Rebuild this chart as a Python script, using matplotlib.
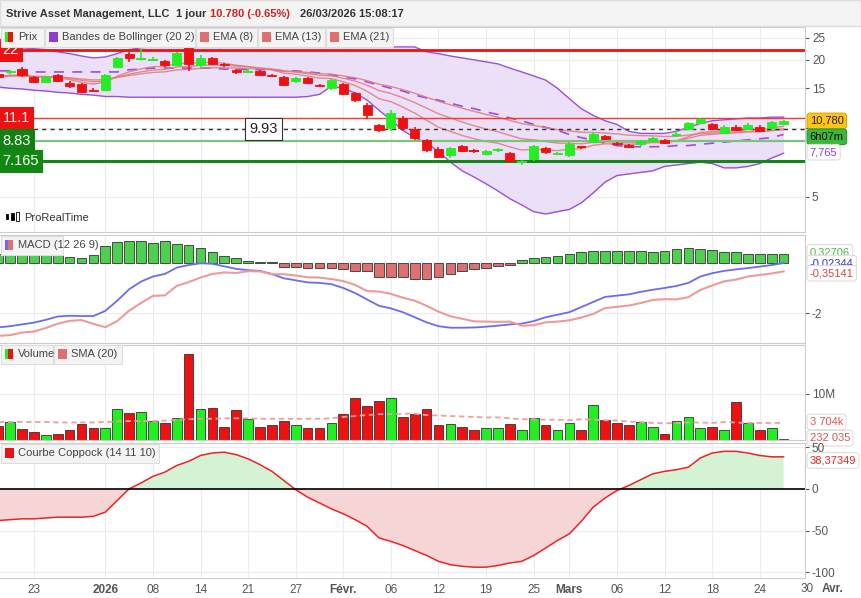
import numpy as np
import pandas as pd
import matplotlib
matplotlib.use('Agg')
import matplotlib.pyplot as plt
from matplotlib.patches import Rectangle
from matplotlib.ticker import FixedLocator, NullFormatter

# ---- data ----
opens = [17.3, 17.6, 18.3, 16.8, 16.0, 17.2, 15.9, 15.6, 14.7, 14.8, 18.6, 21.3, 20.1, 20.0, 19.8, 19.0, 22.7,
         19.0, 20.4, 19.2, 18.1, 17.75, 17.8, 17.2, 16.8, 16.1, 16.6, 15.5, 15.0, 15.7, 14.3, 12.7, 10.3, 10.0,
         11.1, 9.9, 8.9, 8.1, 7.6, 8.35, 7.95, 7.70, 8.0, 7.78, 7.06, 7.34, 8.18, 7.7, 7.63, 8.3, 8.71, 9.24,
         8.61, 8.43, 8.52, 8.80, 8.89, 9.3, 9.91, 10.57, 10.46, 9.53, 10.14, 9.91, 10.14, 10.02, 10.5]
closes = [16.9, 17.9, 17.1, 16.0, 16.8, 16.1, 15.3, 14.4, 14.6, 17.2, 20.4, 20.3, 20.2, 20.05, 18.9, 21.4, 19.2,
          20.4, 19.2, 18.9, 17.6, 17.8, 17.2, 17.05, 15.5, 16.6, 15.9, 15.35, 16.3, 14.2, 13.3, 11.5, 9.8, 11.7,
          10.0, 9.1, 8.0, 7.5, 8.2, 7.94, 7.92, 7.94, 8.03, 7.2, 7.1, 8.35, 7.86, 7.75, 8.52, 8.26, 9.43, 8.97,
          8.52, 8.26, 8.80, 9.06, 8.61, 9.34, 10.57, 10.98, 9.91, 10.14, 9.82, 10.35, 9.73, 10.67, 10.78]
highs = [17.5, 18.1, 18.6, 17.0, 17.0, 17.4, 16.1, 15.8, 15.0, 17.4, 20.6, 21.6, 22.3, 20.5, 20.0, 21.6, 23.0,
         21.0, 20.6, 19.4, 18.3, 18.2, 18.0, 17.3, 17.0, 16.8, 16.8, 15.7, 16.5, 15.9, 14.5, 12.9, 10.5, 12.1,
         11.3, 10.1, 9.0, 8.3, 8.3, 8.45, 8.1, 8.0, 8.2, 7.85, 7.25, 8.45, 8.3, 7.9, 8.7, 8.4, 9.6, 9.35,
         8.7, 8.5, 8.9, 9.2, 9.0, 9.8, 10.7, 11.1, 10.55, 10.3, 10.3, 10.6, 10.35, 10.75, 10.85]
lows = [16.7, 17.4, 16.9, 15.8, 15.8, 16.0, 15.1, 14.3, 14.4, 14.6, 18.4, 19.6, 19.9, 19.8, 18.6, 18.8, 17.9,
        18.7, 19.0, 18.7, 17.4, 17.5, 17.0, 16.8, 15.3, 15.9, 15.7, 15.2, 14.8, 14.0, 13.1, 11.0, 9.6, 9.7,
        9.8, 8.9, 7.9, 7.4, 7.4, 7.85, 7.8, 7.6, 7.9, 7.1, 6.9, 7.2, 7.7, 7.6, 7.5, 8.1, 8.6, 8.9,
        8.4, 8.2, 8.4, 8.7, 8.5, 9.2, 9.8, 10.5, 9.8, 9.4, 9.75, 9.8, 9.65, 9.95, 10.45]

bb_upper = [22.6, 22.6, 22.6, 22.4, 22.2, 21.7, 21.3, 20.8, 20.4, 20.6, 21.3, 22.2, 22.6] + [22.8] * 23 + \
           [21.7, 21.3, 20.8, 20.4, 20.0, 19.6, 19.2, 18.4, 17.7, 17.0, 16.3, 15.0, 13.5, 12.2, 11.4, 10.8,
            10.4, 9.7, 9.5, 9.5, 9.5, 9.7, 10.1, 10.5, 10.8, 10.9, 11.0, 11.1, 11.1, 11.2, 11.2]
bb_mid = [17.9, 17.9, 17.9, 17.7, 17.7, 17.7, 17.7, 17.7, 17.7, 17.7, 17.7, 18.1, 18.2, 18.4, 18.4, 18.4, 18.4,
          18.4, 18.4, 18.2, 18.2, 18.1, 18.1, 18.1, 17.9, 17.9, 17.7, 17.5, 17.2, 16.8, 16.5, 16.0, 15.5, 15.0,
          14.6, 14.0, 13.6, 13.3, 12.9, 12.5, 12.2, 11.8, 11.5, 11.1, 10.8, 10.4, 10.1, 9.8, 9.4, 9.1, 8.9, 8.6,
          8.4, 8.3, 8.3, 8.3, 8.3, 8.4, 8.4, 8.5, 8.6, 8.7, 8.8, 8.9, 9.0, 9.1, 9.4]
bb_lower = [15.2, 15.0, 14.9, 14.7, 14.6, 14.4, 14.3, 14.1, 14.0, 13.8, 13.8] + [13.7] * 15 + \
           [13.8, 14.1, 15.3, 15.0, 14.3, 13.3, 12.0, 10.9, 9.8, 9.1, 8.6, 7.9, 7.1, 6.5, 6.1, 5.7, 5.3, 4.9,
            4.6, 4.3, 4.2, 4.3, 4.4, 4.7, 5.2, 5.8, 6.2, 6.3, 6.4, 6.5, 6.8, 6.9, 7.0, 7.1, 7.0, 6.7, 6.7,
            6.8, 7.0, 7.4, 7.77]

macd = [-2.55, -2.5, -2.43, -2.36, -2.25, -2.12, -2.09, -2.10, -2.1, -1.9, -1.5, -1.05, -0.75, -0.55, -0.45,
        -0.2, -0.1, -0.03, -0.05, -0.15, -0.25, -0.3, -0.33, -0.45, -0.62, -0.7, -0.78, -0.8, -0.85, -1.0, -1.2,
        -1.45, -1.7, -1.8, -1.95, -2.15, -2.35, -2.5, -2.56, -2.56, -2.55, -2.52, -2.48, -2.43, -2.4, -2.3,
        -2.15, -2.05, -1.95, -1.75, -1.55, -1.35, -1.3, -1.25, -1.15, -1.07, -1.0, -0.92, -0.8, -0.55, -0.42,
        -0.33, -0.27, -0.22, -0.16, -0.1, -0.02]
macd_hist = [0.33, 0.35, 0.32, 0.35, 0.32, 0.28, 0.20, 0.16, 0.31, 0.64, 0.80, 0.84, 0.84, 0.76, 0.84, 0.72,
             0.67, 0.56, 0.40, 0.24, 0.16, 0.04, 0.02, 0.01,
             -0.16, -0.19, -0.20, -0.21, -0.20, -0.27, -0.32, -0.33, -0.56, -0.57, -0.57, -0.65, -0.65, -0.57,
             -0.45, -0.35, -0.24, -0.20, -0.15, -0.11,
             0.08, 0.16, 0.20, 0.27, 0.32, 0.41, 0.47, 0.44, 0.44, 0.44, 0.44, 0.40, 0.44, 0.53, 0.56, 0.53,
             0.48, 0.41, 0.40, 0.33, 0.33, 0.33, 0.33]

volume = [3.0, 4.0, 2.3, 1.7, 1.1, 1.4, 2.1, 3.4, 2.5, 2.7, 6.7, 5.8, 6.0, 4.1, 3.6, 4.7, 18.7, 6.7, 6.9, 2.8,
          6.5, 4.6, 2.9, 3.3, 4.1, 3.2, 2.7, 2.7, 3.6, 5.7, 9.1, 7.3, 8.4, 9.1, 4.9, 5.6, 6.7, 3.2, 3.4, 2.9,
          2.1, 2.5, 2.5, 3.4, 2.1, 4.7, 3.2, 2.1, 3.6, 2.1, 7.5, 4.3, 3.6, 3.3, 3.9, 2.9, 1.2, 4.1, 4.9, 2.7,
          2.9, 2.1, 8.2, 3.6, 2.1, 2.5, 0.23]
vol_sma = [3.9, 3.9, 3.9, 3.9, 3.9, 3.8, 3.8, 3.8, 3.8, 3.9, 4.0, 4.1, 4.1, 4.1, 4.2, 4.4, 4.5, 4.6, 4.6, 4.7,
           4.7, 4.7, 4.6, 4.6, 4.6, 4.6, 4.6, 4.6, 4.7, 5.0, 5.2, 5.4, 5.6, 5.6, 5.7, 5.7, 5.4, 5.3, 5.2, 5.1,
           5.0, 4.9, 4.9, 4.7, 4.5, 4.5, 4.4, 4.4, 4.3, 4.5, 4.4, 4.3, 4.2, 4.0, 3.9, 3.7, 3.6, 3.7, 3.8, 3.8,
           3.7, 3.9, 3.8, 3.7, 3.7, 3.7, 3.7]

coppock = [-38, -37, -36, -36, -35, -34, -34, -34, -33, -28, -14, 0, 7, 15, 20, 28, 33, 40, 43, 44, 41, 36,
           29, 21, 10, -1, -10, -17, -24, -30, -37, -45, -59, -63, -68, -74, -80, -87, -91, -93, -94, -94, -92,
           -89, -87, -80, -71, -62, -54, -39, -22, -11, -2, 4, 11, 18, 21, 23, 26, 37, 43, 45, 45, 43, 40,
           38.4, 38.4]

tick_pos = [3, 9, 13, 17, 21, 25, 29, 33, 37, 41, 45, 48, 52, 56, 60, 64]
tick_labels = ['23', '2026', '08', '14', '21', '27', 'Févr.', '06', '12', '19', '25', 'Mars', '06', '12', '18', '24']

levels = [(22, '22', '#ee1111', '#ee1111', 2.0), (11.1, '11.1', '#ff3333', '#ee1111', 1.0),
          (8.83, '8.83', '#7cc47c', '#128012', 1.6), (7.165, '7.165', '#118811', '#118811', 2.2)]

# ---- styling ----
GREEN = '#22ee22'
RED = '#ee1111'
GRID = '#ececec'
TXT = '#555555'
plt.rcParams['font.family'] = ['Liberation Sans', 'DejaVu Sans']
plt.rcParams['axes.unicode_minus'] = False

x = np.arange(len(closes))
up = np.array(closes) >= np.array(opens)
s = pd.Series(closes)
ema8 = s.ewm(span=8, adjust=False).mean()
ema13 = s.ewm(span=13, adjust=False).mean()
ema21 = s.ewm(span=21, adjust=False).mean()
signal = np.array(macd) - np.array(macd_hist)

W, H = 861, 598
fig = plt.figure(figsize=(W / 100, H / 100), dpi=100)
fig.patch.set_facecolor('white')
XL = (0.15, 67.8)
right = 805 / W


def panel(top, bot):
    ax = fig.add_axes([0, 1 - bot / H, right, (bot - top) / H])
    ax.set_xlim(*XL)
    ax.yaxis.tick_right()
    ax.tick_params(axis='y', labelsize=8.5, colors=TXT, length=3, pad=2)
    ax.tick_params(axis='x', length=0, labelbottom=False)
    ax.set_xticks(tick_pos)
    ax.grid(True, color=GRID, lw=0.8)
    ax.set_axisbelow(True)
    for sp in ax.spines.values():
        sp.set_color('#cccccc')
    ax.spines['left'].set_visible(False)
    return ax


def right_label(ax, y, text, fc, tc, ec='#dddddd'):
    ax.text(1.006, y, text, transform=ax.get_yaxis_transform(), fontsize=8, color=tc, va='center',
            ha='left', bbox=dict(boxstyle='round,pad=0.25', fc=fc, ec=ec, lw=0.8), zorder=10, clip_on=False)


# ---- price panel ----
ax1 = panel(27, 232)
ax1.set_yscale('log')
ax1.set_ylim(3.5, 27.9)
ax1.yaxis.set_major_locator(FixedLocator([5, 10, 15, 20, 25]))
ax1.yaxis.set_minor_formatter(NullFormatter())
ax1.yaxis.set_minor_locator(FixedLocator([]))
ax1.set_yticklabels(['5', '', '15', '20', '25'])
ax1.fill_between(x, bb_lower, bb_upper, color='#ecdff8', lw=0)
ax1.plot(x, bb_upper, color='#9a4fd8', lw=1)
ax1.plot(x, bb_lower, color='#9a4fd8', lw=1)
ax1.plot(x, bb_mid, color='#9a4fd8', lw=1.2, ls=(0, (6, 5)))
for e in (ema8, ema13, ema21):
    ax1.plot(x, e, color='#e07a7a', lw=1, alpha=0.85)
for val, lab, col, boxcol, lw in levels:
    ax1.axhline(val, color=col, lw=lw, zorder=3)
    ax1.text(0.003, val, lab, transform=ax1.get_yaxis_transform(), fontsize=10.5, color='white',
             va='center', ha='left', bbox=dict(boxstyle='square,pad=0.3', fc=boxcol, ec='none'), zorder=11)
ax1.axhline(9.93, color='#333333', lw=1, ls=(0, (3, 3)), zorder=3)
ax1.text(22.3, 9.93, '9.93', fontsize=10.5, color='#222222', va='center', ha='center',
         bbox=dict(boxstyle='square,pad=0.3', fc='white', ec='#333333', lw=0.8), zorder=11)
for i in x:
    c = GREEN if up[i] else RED
    ax1.vlines(i, lows[i], highs[i], color=c, lw=1.2, zorder=5)
    lo, hi = sorted((opens[i], closes[i]))
    if hi / lo < 1.006:
        ax1.hlines((lo + hi) / 2, i - 0.4, i + 0.4, color=c, lw=1.4, zorder=5)
    else:
        ax1.add_patch(Rectangle((i - 0.38, lo), 0.76, hi - lo, fc=c, ec=c, lw=0.6, zorder=6))
right_label(ax1, 10.78, '10,780', '#ffc414', '#222222', ec='#e0a800')
right_label(ax1, 9.18, '6h07m', '#3cb83c', '#111111', ec='#2a9a2a')
right_label(ax1, 7.85, '7,765', 'white', '#8a3fd0')
# small ProRealTime logo: three tiny candles
for k, (hh, ww) in enumerate([(5, 2.2), (7, 2.6), (9, 3.0)]):
    fig.add_artist(Rectangle(((6 + k * 5) / W, 1 - (221 - (9 - hh) / 2) / H), ww / W, hh / H,
                             transform=fig.transFigure, fc='black' if k < 2 else 'white', ec='black', lw=0.6))
fig.text(24 / W, 1 - 218 / H, 'ProRealTime', fontsize=8, color='#333333', va='center')

# ---- MACD panel ----
ax2 = panel(235, 343)
ax2.set_ylim(-3.16, 1.08)
ax2.set_yticks([-2])
ax2.set_yticklabels(['-2'])
hc = ['#4fcf4f' if v >= 0 else '#e07070' for v in macd_hist]
ax2.bar(x, macd_hist, width=0.82, color=hc, edgecolor='#333333', lw=0.6)
ax2.plot(x, macd, color='#6b6bf0', lw=1.3)
ax2.plot(x, signal, color='#ee9a9a', lw=1.5)
right_label(ax2, 0.40, '0,32706', 'white', '#44bb44')
right_label(ax2, -0.02, '-0,02344', 'white', '#3333dd')
right_label(ax2, -0.42, '-0,35141', 'white', '#dd4444')

# ---- volume panel ----
ax3 = panel(345, 440)
ax3.set_ylim(0, 20.6)
ax3.set_yticks([10])
ax3.set_yticklabels(['10M'])
vc = [GREEN if u else RED for u in up]
ax3.bar(x, volume, width=0.82, color=vc, edgecolor='#333333', lw=0.6)
ax3.plot(x, vol_sma, color='#eba0a0', lw=1.3, ls=(0, (3, 2)))
right_label(ax3, 3.9, '3 704k', 'white', '#dd5555')
right_label(ax3, 0.4, '232 035', 'white', '#dd5555')

# ---- Coppock panel ----
ax4 = panel(443, 578)
ax4.set_ylim(-107, 55)
ax4.set_yticks([50, 0, -50, -100])
cp = np.array(coppock, dtype=float)
ax4.fill_between(x, 0, cp, where=cp >= 0, interpolate=True, color='#d4f2d4', lw=0)
ax4.fill_between(x, 0, cp, where=cp <= 0, interpolate=True, color='#f5d5d5', lw=0)
ax4.plot(x, cp, color='#ee2222', lw=1.1)
ax4.axhline(0, color='black', lw=1.2)
right_label(ax4, 34, '38,37349', 'white', '#ee2222')
ax4.tick_params(axis='x', labelbottom=True, labelsize=8.5, colors=TXT, pad=4)
ax4.set_xticklabels(tick_labels)
for lab in ax4.get_xticklabels():
    if lab.get_text() in ('2026', 'Févr.', 'Mars'):
        lab.set_fontweight('bold')
fig.text(807 / W, 1 - 589 / H, '30', fontsize=8.5, color=TXT, ha='center', va='center')
fig.text(833 / W, 1 - 589 / H, 'Avr.', fontsize=8.5, color=TXT, ha='center', va='center', fontweight='bold')

# ---- header and legends ----
fig.add_artist(Rectangle((0, 1 - 26 / H), 1, 26 / H, transform=fig.transFigure, fc='#f3f3f3', ec='#dddddd'))
ty = 1 - 14 / H
fig.text(6 / W, ty, 'Strive Asset Management, LLC', fontsize=8, fontweight='bold', color='#333333', va='center')
fig.text(176 / W, ty, '1 jour', fontsize=8, fontweight='bold', color='#333333', va='center')
fig.text(210 / W, ty, '10.780 (-0.65%)', fontsize=8, fontweight='bold', color='#cc2222', va='center')
fig.text(300 / W, ty, '26/03/2026 15:08:17', fontsize=8, fontweight='bold', color='#333333', va='center')


def legend(y, items):
    xx = 1
    for colors, label, w in items:
        fig.add_artist(Rectangle((xx / W, 1 - (y + 10) / H), w / W, 19 / H, transform=fig.transFigure,
                                 fc='#f4f4f4', ec='#dddddd', lw=0.8, zorder=20))
        for k, col in enumerate(colors):
            fig.add_artist(Rectangle(((xx + 4 + k * 3) / W, 1 - (y + 5) / H), (9 / len(colors)) / W, 10 / H,
                                     transform=fig.transFigure, fc=col, ec='none', zorder=21))
        fig.text((xx + 17) / W, 1 - y / H, label, fontsize=8, color='#444444', va='center', zorder=22)
        xx += w + 1


legend(37, [([GREEN, RED], 'Prix', 43), (['#8a3fd0', '#8a3fd0', '#8a3fd0'], 'Bandes de Bollinger (20 2)', 150),
            (['#e07070'], 'EMA (8)', 61), (['#e07070'], 'EMA (13)', 67), (['#e07070'], 'EMA (21)', 67)])
legend(245, [(['#6b6bf0', '#e07070'], 'MACD (12 26 9)', 62)])
legend(354, [([GREEN, RED], 'Volume', 52), (['#e07070'], 'SMA (20)', 68)])
legend(453, [([RED], 'Courbe Coppock (14 11 10)', 158)])

fig.savefig('out.png', dpi=100)
